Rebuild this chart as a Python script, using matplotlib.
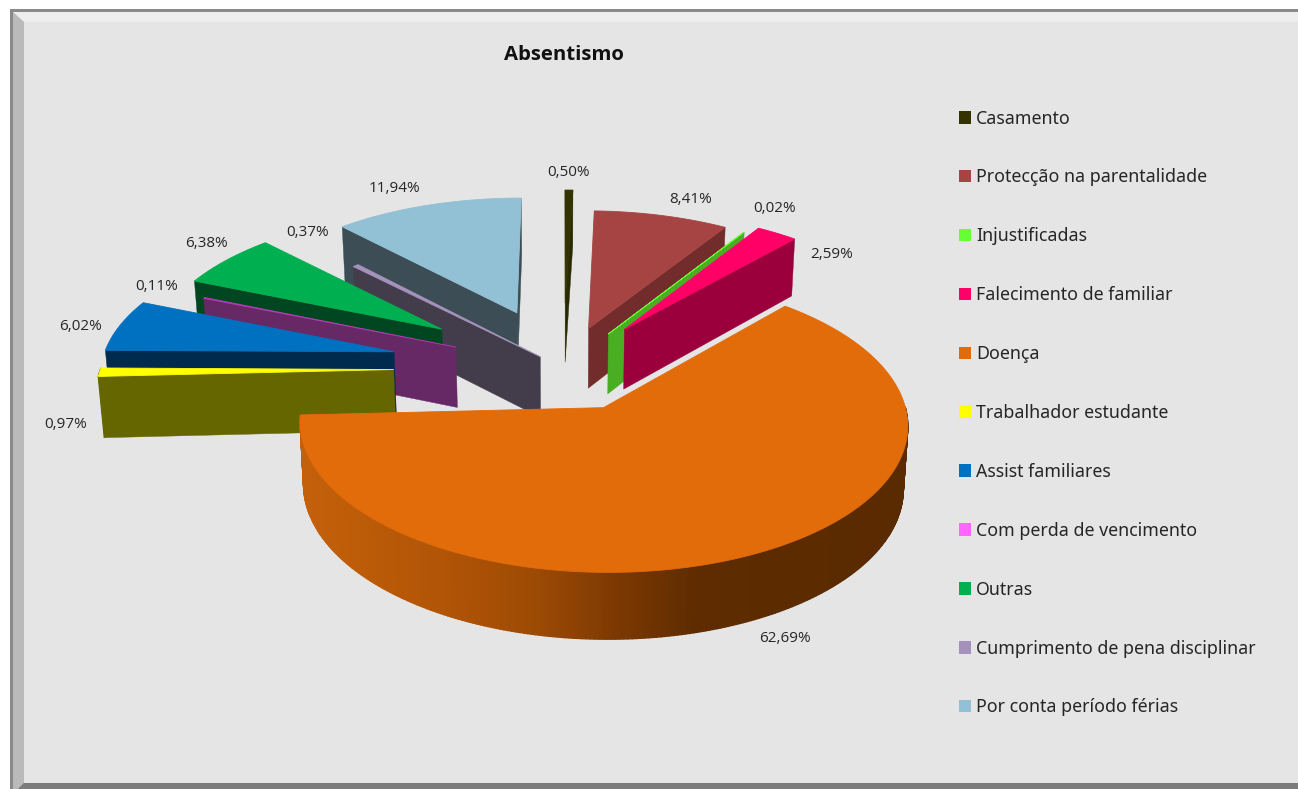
# Absentismo - pie 3D com fatias destacadas
import numpy as np
import matplotlib
matplotlib.use('Agg')
import matplotlib.pyplot as plt
from matplotlib.patches import Polygon, Patch

categorias = ['Casamento', 'Protecção na parentalidade', 'Injustificadas',
              'Falecimento de familiar', 'Doença', 'Trabalhador estudante',
              'Assist familiares', 'Com perda de vencimento', 'Outras',
              'Cumprimento de pena disciplinar', 'Por conta período férias']
percentagens = [0.50, 8.41, 0.02, 2.59, 62.69, 0.97, 6.02, 0.11, 6.38, 0.37, 11.94]
destaque = [0.48, 0.30, 0.29, 0.35, 0.30, 0.56, 0.578, 0.39, 0.50, 0.11, 0.435]

cor_topo = ['#333300', '#A54442', '#66FF33', '#FF0066', '#E26B0A', '#FFFF00',
            '#0070C0', '#B03CB0', '#00B050', '#A492BC', '#92C0D4']
cor_lado = ['#2A2A00', '#722C2C', '#4AAE22', '#9C003C', '#7A3A05', '#666600',
            '#002B4E', '#662966', '#004620', '#433D4B', '#3D4D55']
cor_legenda = ['#333300', '#A54442', '#66FF33', '#FF0066', '#E26B0A', '#FFFF00',
               '#0070C0', '#FF66FF', '#00B050', '#A492BC', '#92C0D4']

# posicao de cada rotulo em pixels
pos_rotulo = [(568, 172), (691, 199), (775, 208), (832, 254), (785, 638),
              (66, 424), (81, 326), (157, 286), (206, 243), (308, 232), (394, 188)]

# ordem de desenho: de tras para a frente
ordem = [10, 9, 8, 7, 6, 5, 0, 1, 2, 3, 4]

# projecao em perspetiva do disco
cx, cy = 563, 368
ax_r, by_r = 302, 142.3
raio = 0.97
k = 0.11
alt = 61
esc_base = 0.987


def projeta(X, Y):
    s = 1 / (1 + k * Y)
    return cx + ax_r * X * s, cy - by_r * Y * s


def projeta_base(X, Y):
    x, y = projeta(X, Y)
    return cx + (x - cx) * esc_base, y + alt / (1 + 0.07 * Y)


def cor_doenca(x):
    # sombra da parede curva, mais escura para a direita
    xs = [305, 450, 540, 620, 700, 910]
    rs = [0xC4, 0xB0, 0x9C, 0x7C, 0x5E, 0x5A]
    gs = [0x60, 0x54, 0x4A, 0x38, 0x2C, 0x2A]
    bs = [0x0A, 0x06, 0x04, 0x02, 0x00, 0x00]
    return (np.interp(x, xs, rs) / 255, np.interp(x, xs, gs) / 255, np.interp(x, xs, bs) / 255)


fig = plt.figure(figsize=(12.98, 7.89), dpi=100)
ax = fig.add_axes([0, 0, 1, 1])
ax.set_xlim(0, 1298)
ax.set_ylim(789, 0)
ax.axis('off')

# moldura em bisel
ax.add_patch(Polygon([(10, 9), (1298, 9), (1298, 789), (10, 789)], fc='#8A8A8A', ec='none'))
ax.add_patch(Polygon([(13, 12), (1298, 12), (1298, 783), (13, 783)], fc='#E5E5E5', ec='none'))
ax.add_patch(Polygon([(13, 12), (1298, 12), (1298, 22), (24, 22)], fc='#EEEEEE', ec='none'))
ax.add_patch(Polygon([(13, 12), (24, 22), (24, 783), (18, 789), (13, 789)], fc='#BABABA', ec='none'))
ax.add_patch(Polygon([(24, 783), (1298, 783), (1298, 789), (18, 789)], fc='#7C7C7C', ec='none'))

fracao = np.array(percentagens) / 100
limites = np.concatenate([[0], np.cumsum(fracao)]) * 2 * np.pi

for i in ordem:
    t0, t1 = limites[i], limites[i + 1]
    meio = (t0 + t1) / 2
    ox, oy = destaque[i] * np.sin(meio), destaque[i] * np.cos(meio)
    t = np.linspace(t0, t1, max(int((t1 - t0) * 80), 3))
    Xa, Ya = ox + raio * np.sin(t), oy + raio * np.cos(t)

    topo = [projeta(ox, oy)] + [projeta(a, b) for a, b in zip(Xa, Ya)]

    # paredes radiais, so as que ficam viradas para a frente
    visiveis = []
    if np.sin(t0) < 0:
        visiveis.append((Xa[0], Ya[0]))
    if np.sin(t1) > -0.01:
        visiveis.append((Xa[-1], Ya[-1]))
    for Xe, Ye in visiveis:
        parede = [projeta(ox, oy), projeta(Xe, Ye), projeta_base(Xe, Ye), projeta_base(ox, oy)]
        ax.add_patch(Polygon(parede, fc=cor_lado[i], ec=cor_lado[i], lw=0.3))

    # parede curva, so a metade da frente
    for j in range(len(t) - 1):
        if np.cos(t[j]) > 0 and np.cos(t[j + 1]) > 0:
            continue
        quad = [projeta(Xa[j], Ya[j]), projeta(Xa[j + 1], Ya[j + 1]),
                projeta_base(Xa[j + 1], Ya[j + 1]), projeta_base(Xa[j], Ya[j])]
        c = cor_doenca(quad[0][0]) if categorias[i] == 'Doença' else cor_lado[i]
        ax.add_patch(Polygon(quad, fc=c, ec=c, lw=1.0))

    ax.add_patch(Polygon(topo, fc=cor_topo[i], ec=cor_topo[i], lw=0.6))

    rotulo = f'{percentagens[i]:.2f}%'.replace('.', ',')
    ax.text(pos_rotulo[i][0], pos_rotulo[i][1], rotulo, ha='center', va='center',
            fontsize=11, family='Open Sans', color='#262626')

ax.text(564, 55, 'Absentismo', ha='center', va='center', fontsize=14.7,
        fontweight='bold', family='Open Sans', color='#111111')

handles = [Patch(fc=c, ec='none') for c in cor_legenda]
ax.legend(handles, categorias, loc='upper left', bbox_to_anchor=(959, 109.5),
          bbox_transform=ax.transData, frameon=False, borderpad=0, borderaxespad=0,
          prop={'family': 'Noto Sans', 'size': 12.8}, labelcolor='#262626',
          labelspacing=2.3, handlelength=0.7, handleheight=0.7, handletextpad=0.25)

fig.savefig('out.png', dpi=100)
